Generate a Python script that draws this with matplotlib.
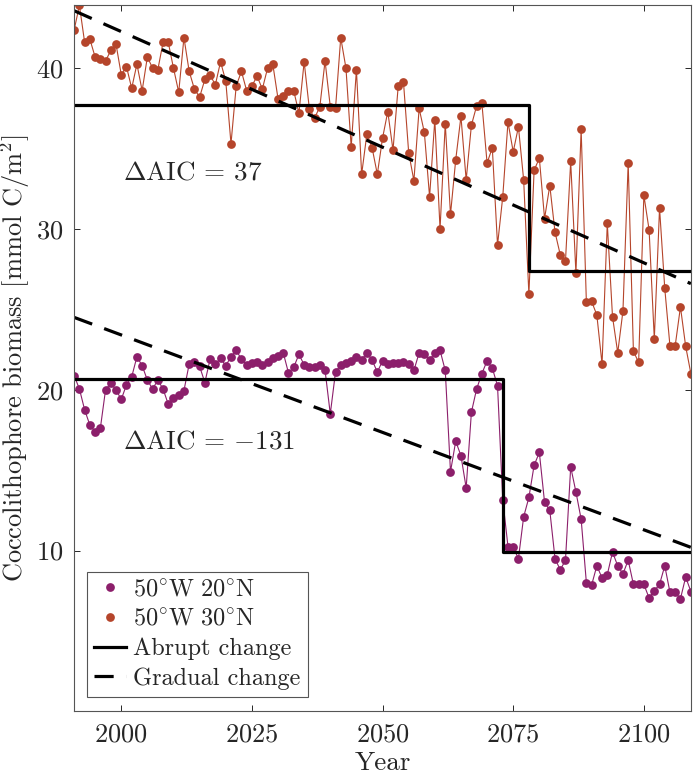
import matplotlib
matplotlib.use("Agg")
import matplotlib.pyplot as plt
import numpy as np

plt.rcParams["font.family"] = "serif"
plt.rcParams["font.serif"] = ["cmr10"]
plt.rcParams["mathtext.fontset"] = "cm"
plt.rcParams["axes.unicode_minus"] = False
plt.rcParams["axes.formatter.use_mathtext"] = True

years = np.arange(1991, 2110)

# 50W 30N, one value per year
biomass_30n = [
    42.4, 43.9, 41.6, 41.8, 40.7, 40.6, 40.45, 41.1, 41.5,          # 1991-1999
    39.6, 40.1, 38.75, 40.25, 38.6, 40.7, 40.0, 39.9, 41.6, 41.6,   # 2000-2009
    40.0, 38.5, 41.9, 39.8, 38.7, 38.2, 39.3, 39.6, 38.95, 40.4,    # 2010-2019
    39.2, 35.3, 38.9, 39.8, 38.6, 38.9, 39.5, 38.7, 40.0, 40.25,    # 2020-2029
    38.1, 38.3, 38.55, 38.6, 37.2, 40.4, 37.45, 36.9, 37.6, 40.45,  # 2030-2039
    37.6, 37.5, 41.9, 40.0, 35.1, 39.9, 33.4, 35.9, 35.05, 33.4,    # 2040-2049
    35.65, 37.3, 34.9, 38.9, 39.15, 34.75, 33.0, 37.5, 36.0, 32.0,  # 2050-2059
    36.8, 30.0, 36.55, 30.9, 34.3, 37.0, 33.05, 36.45, 37.65, 37.85,  # 2060-2069
    34.1, 35.05, 29.0, 32.0, 36.65, 34.8, 36.35, 33.05, 25.95, 33.65,  # 2070-2079
    34.4, 30.65, 32.7, 29.8, 28.4, 28.0, 34.2, 27.25, 36.2, 25.45,  # 2080-2089
    25.5, 24.65, 21.6, 30.35, 24.55, 22.3, 24.9, 34.1, 22.4, 21.7,  # 2090-2099
    32.1, 29.95, 23.15, 31.3, 26.3, 22.7, 22.75, 25.15, 22.7, 21.0,  # 2100-2109
]

# 50W 20N, one value per year
biomass_20n = [
    20.87, 20.05, 18.75, 17.8, 17.4, 17.6, 20.0, 20.4, 20.0,        # 1991-1999
    19.4, 20.3, 20.8, 22.05, 21.5, 20.6, 20.05, 20.6, 20.05, 19.1,  # 2000-2009
    19.5, 19.7, 19.95, 21.6, 21.7, 21.45, 20.45, 21.9, 21.6, 21.95,  # 2010-2019
    21.5, 22.05, 22.45, 21.9, 21.55, 21.65, 21.75, 21.55, 21.75, 21.95,  # 2020-2029
    22.1, 22.3, 21.05, 21.4, 22.2, 21.55, 21.4, 21.4, 21.55, 21.2,  # 2030-2039
    18.5, 21.1, 21.55, 21.65, 21.8, 22.05, 21.85, 22.3, 21.85, 21.1,  # 2040-2049
    21.8, 21.6, 21.65, 21.65, 21.75, 21.6, 21.2, 22.3, 22.2, 21.85,  # 2050-2059
    22.3, 22.45, 21.2, 14.9, 16.8, 15.9, 13.9, 18.6, 20.05, 21.0,   # 2060-2069
    21.8, 21.35, 20.25, 13.15, 10.25, 10.2, 9.5, 12.1, 13.3, 15.3,  # 2070-2079
    16.1, 13.0, 12.5, 9.5, 8.8, 9.4, 15.2, 13.65, 11.95, 8.0,       # 2080-2089
    7.85, 9.05, 8.3, 8.5, 9.9, 9.05, 8.55, 9.4, 7.9, 7.9,           # 2090-2099
    7.9, 7.05, 7.5, 7.9, 9.05, 7.4, 7.4, 7.0, 8.35, 7.45,           # 2100-2109
]

# abrupt fits: break year and levels before / after
abrupt_30n_break, abrupt_30n_levels = 2078, (37.7, 27.4)
abrupt_20n_break, abrupt_20n_levels = 2073, (20.67, 9.89)

# gradual fits: values at first and last year
gradual_30n_ends = (43.57, 26.6)
gradual_20n_ends = (24.5, 10.2)

aic_labels = [r"$\Delta\mathrm{AIC}\,=\,37$", r"$\Delta\mathrm{AIC}\,=\,{-}131$"]
aic_pos = [(2000.4, 33.5), (2000.4, 16.8)]

c_20n = "#8c1f6b"
c_30n = "#b5452b"
ink = "#262626"

fig = plt.figure(figsize=(7, 7.8), dpi=100)
ax = fig.add_axes([0.106, 0.088, 0.881, 0.905])

ax.plot(years, biomass_20n, "-", color=c_20n, lw=0.8)
ax.plot(years, biomass_30n, "-", color=c_30n, lw=0.8)
h20 = ax.plot(years, biomass_20n, "o", color=c_20n, ms=6.3, mew=0,
              label=r"$50^{\circ}\mathrm{W}\ 20^{\circ}\mathrm{N}$")[0]
h30 = ax.plot(years, biomass_30n, "o", color=c_30n, ms=6.3, mew=0,
              label=r"$50^{\circ}\mathrm{W}\ 30^{\circ}\mathrm{N}$")[0]

x0, x1 = years[0], years[-1]
for brk, (lv_a, lv_b) in [(abrupt_30n_break, abrupt_30n_levels),
                          (abrupt_20n_break, abrupt_20n_levels)]:
    ha = ax.plot([x0, brk, brk, x1], [lv_a, lv_a, lv_b, lv_b], "-", color="black", lw=2.3)[0]

for a, b in [gradual_30n_ends, gradual_20n_ends]:
    hg = ax.plot([x0, x1], [a, b], color="black", lw=2.3, dashes=(6, 4))[0]

for txt, (tx, ty) in zip(aic_labels, aic_pos):
    ax.text(tx, ty, txt, fontsize=19.5, ha="left", va="center", color=ink)

ax.set_xlim(x0, x1)
ax.set_ylim(0, 43.9)
ax.set_xticks([2000, 2025, 2050, 2075, 2100])
ax.set_yticks([10, 20, 30, 40])
ax.tick_params(direction="in", top=True, right=True, length=4, width=0.7,
               labelsize=19, colors=ink, pad=8)
for s in ax.spines.values():
    s.set_color("#555555")
    s.set_linewidth(0.8)

ax.set_xlabel("Year", fontsize=19.5, color=ink, labelpad=4)
ax.set_ylabel(r"Coccolithophore biomass [mmol C/m$^2$]", fontsize=19, color=ink)
ax.yaxis.set_label_coords(-0.068, 0.5)

ha.set_label("Abrupt change")
hg.set_label("Gradual change")
leg = ax.legend(handles=[h20, h30, ha, hg], loc="lower left",
                bbox_to_anchor=(0.021, 0.02), fontsize=17.5, frameon=True,
                fancybox=False, edgecolor="#555555", framealpha=1,
                handlelength=1.3, handletextpad=0.3, borderpad=0.3,
                labelspacing=0.3, borderaxespad=0)
leg.get_frame().set_linewidth(0.8)
for t in leg.get_texts():
    t.set_color(ink)

fig.savefig("out.png", dpi=100)
